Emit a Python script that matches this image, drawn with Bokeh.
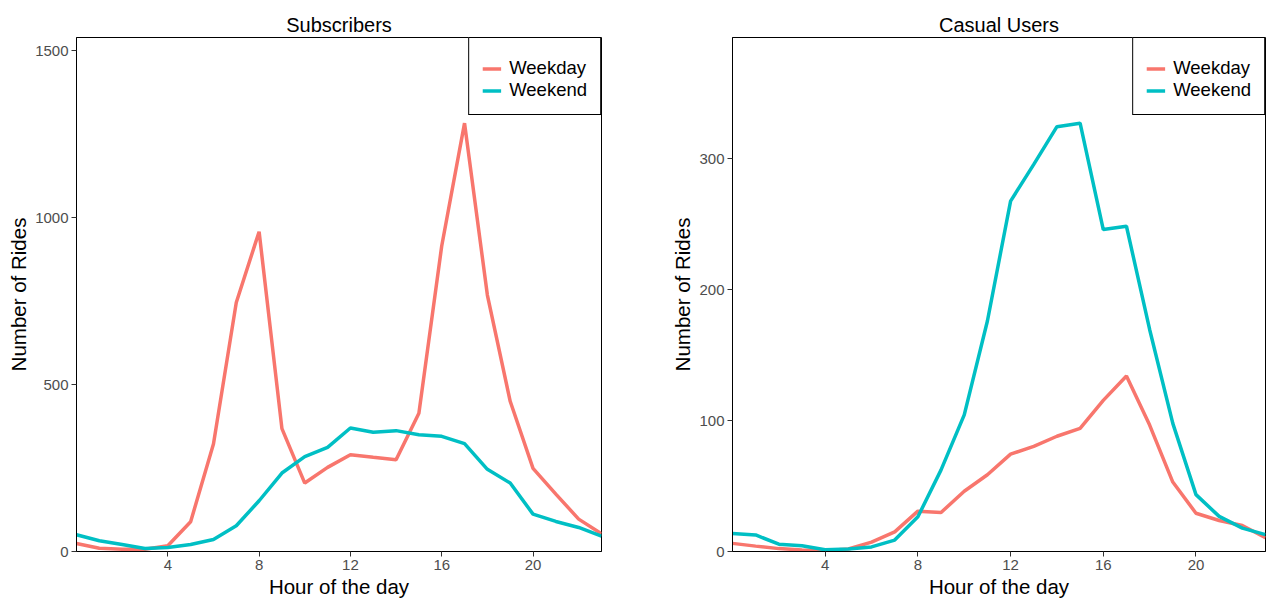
from bokeh.plotting import figure
from bokeh.layouts import row
from bokeh.models import Range1d, FixedTicker, Legend, LegendItem
from bokeh.embed import file_html
from bokeh.resources import INLINE

hours = list(range(24))
sub_weekday = [24, 10, 7, 7, 17, 89, 322, 746, 958, 368, 205, 252, 290, 282, 275, 414, 915, 1283, 768, 450, 249, 172, 97, 53]
sub_weekend = [50, 32, 21, 9, 12, 21, 36, 77, 152, 235, 284, 312, 370, 357, 362, 350, 345, 323, 246, 205, 112, 90, 72, 46]
cas_weekday = [6.2, 4.1, 2.2, 1.2, 0.5, 1.9, 7.2, 15, 30.8, 29.8, 46, 58.6, 74.3, 80.3, 88, 94, 115.4, 134, 96.5, 53, 29.2, 23.7, 19.8, 10.6]
cas_weekend = [13.8, 12.6, 5.6, 4.4, 1.4, 1.9, 3.5, 8.7, 26.5, 62.3, 104.3, 176, 267.5, 295.5, 324.3, 327, 245.8, 248.3, 169.5, 97.8, 43.4, 26.8, 17.8, 12.9]

sub_yticks = [0, 500, 1000, 1500]
cas_yticks = [0, 100, 200, 300]
xticks = [4, 8, 12, 16, 20]
series_labels = ["Weekday", "Weekend"]
series_colors = ["#F8766D", "#00BFC4"]

FONT = "Liberation Sans"


def make(title, wd, we, yticks, width, mbl, mbr):
    ymax = max(max(wd), max(we)) * 1.2
    p = figure(width=width, height=600, x_range=Range1d(0, 23), y_range=Range1d(0, ymax),
               output_backend="svg", toolbar_location=None,
               min_border_left=mbl, min_border_right=mbr, min_border_top=37, min_border_bottom=48)
    p.title.text = title
    p.title.align = "center"
    p.title.text_font = FONT
    p.title.text_font_size = "20px"
    p.title.text_font_style = "normal"
    p.title.text_color = "black"
    p.title.standoff = 4

    r1 = p.line(hours, wd, line_color=series_colors[0], line_width=3.5)
    r2 = p.line(hours, we, line_color=series_colors[1], line_width=3.5)

    p.xgrid.visible = False
    p.ygrid.visible = False
    p.outline_line_color = "black"
    p.outline_line_width = 1
    p.outline_line_alpha = 1

    p.xaxis.ticker = FixedTicker(ticks=xticks)
    p.yaxis.ticker = FixedTicker(ticks=yticks)
    p.xaxis.axis_label = "Hour of the day"
    p.yaxis.axis_label = "Number of Rides"
    for ax in (p.xaxis, p.yaxis):
        ax.minor_tick_line_color = None
        ax.major_tick_out = 5
        ax.major_tick_in = 0
        ax.major_tick_line_color = "#333333"
        ax.axis_line_color = "black"
        ax.major_label_text_font = FONT
        ax.major_label_text_font_size = "15px"
        ax.major_label_text_color = "#4D4D4D"
        ax.major_label_standoff = 3
        ax.axis_label_text_font = FONT
        ax.axis_label_text_font_size = "20.5px"
        ax.axis_label_text_font_style = "normal"
        ax.axis_label_text_color = "black"
        ax.axis_label_standoff = 2

    legend = Legend(items=[LegendItem(label=series_labels[0], renderers=[r1]),
                           LegendItem(label=series_labels[1], renderers=[r2])],
                    location="top_right")
    legend.margin = 0
    legend.padding = 13
    legend.spacing = 0
    legend.border_line_color = "black"
    legend.border_line_width = 1
    legend.border_line_alpha = 1
    legend.background_fill_color = "white"
    legend.background_fill_alpha = 1
    legend.label_text_font = FONT
    legend.label_text_font_size = "18.5px"
    legend.label_text_color = "black"
    legend.label_height = 21
    legend.glyph_height = 21
    legend.glyph_width = 19
    legend.label_standoff = 8
    legend.title = " "
    legend.title_text_font_size = "6px"
    legend.title_standoff = 0
    p.add_layout(legend)
    return p


p1 = make("Subscribers", sub_weekday, sub_weekend, sub_yticks, 640, 76, 39)
p2 = make("Casual Users", cas_weekday, cas_weekend, cas_yticks, 630, 92, 5)

layout = row(p1, p2)
open("out.html", "w").write(file_html(layout, INLINE))
